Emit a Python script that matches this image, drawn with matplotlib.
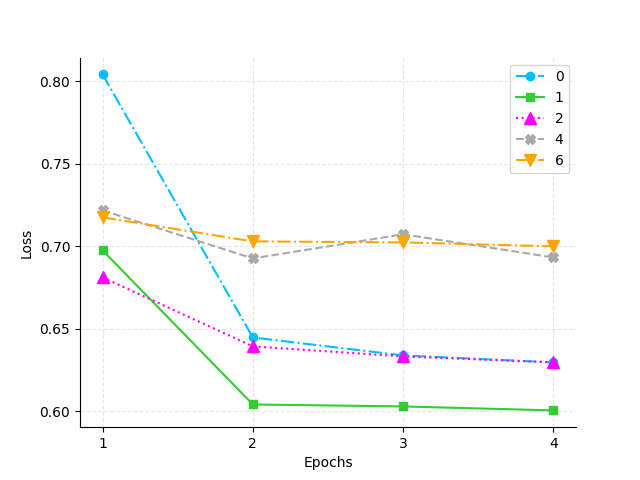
import matplotlib
matplotlib.use("Agg")
import matplotlib.pyplot as plt
from matplotlib.ticker import MultipleLocator

epochs = [1, 2, 3, 4]
labels = ["0", "1", "2", "4", "6"]
loss_0 = [0.8042, 0.6448, 0.6339, 0.6297]
loss_1 = [0.6976, 0.6042, 0.6030, 0.6006]
loss_2 = [0.6812, 0.6394, 0.6333, 0.6297]
loss_4 = [0.7218, 0.6927, 0.7073, 0.6933]
loss_6 = [0.7176, 0.7030, 0.7024, 0.7000]

series = [loss_0, loss_1, loss_2, loss_4, loss_6]
colors = ["deepskyblue", "limegreen", "magenta", "darkgray", "orange"]
markers = ["o", "s", "^", "X", "v"]
styles = ["-.", "-", ":", "--", "-."]
sizes = [6, 6, 8, 7, 8]

fig, ax = plt.subplots(figsize=(6.4, 4.8), dpi=100)
for vals, lab, c, m, ls, ms in zip(series, labels, colors, markers, styles, sizes):
    ax.plot(epochs, vals, color=c, marker=m, linestyle=ls, markersize=ms, label=lab)

ax.set_xlabel("Epochs")
ax.set_ylabel("Loss")
ax.set_xticks(epochs)
ax.yaxis.set_major_locator(MultipleLocator(0.05))
ax.grid(True, linestyle="--", alpha=0.3)
ax.spines["top"].set_visible(False)
ax.spines["right"].set_visible(False)
ax.legend(loc="upper right")

fig.savefig("out.png")
